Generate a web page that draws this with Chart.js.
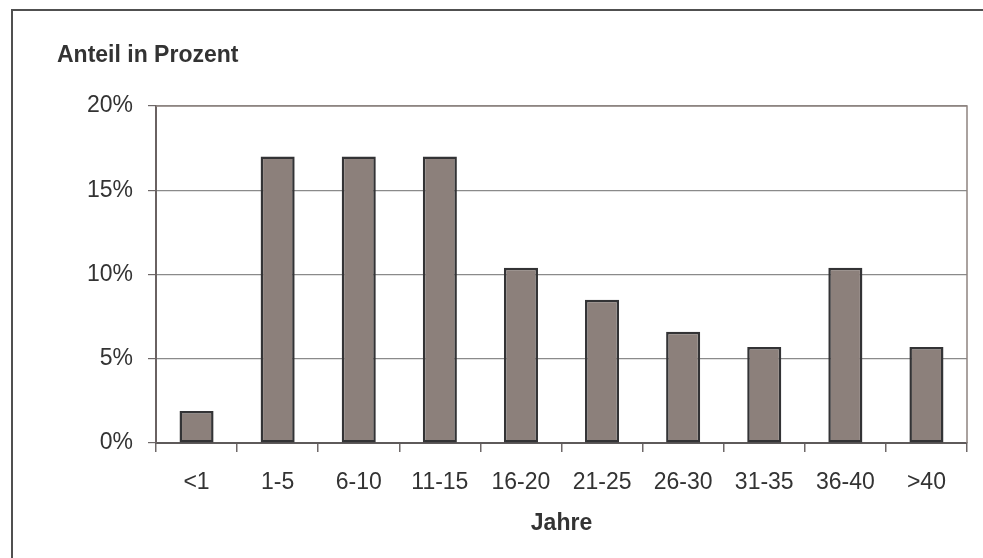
<!DOCTYPE html>
<html lang="de">
<head>
<meta charset="utf-8">
<title>Anteil in Prozent nach Jahren</title>
<script src="https://cdn.jsdelivr.net/npm/chart.js@4/dist/chart.umd.min.js"></script>
<style>
  html, body { margin: 0; padding: 0; background: #ffffff; }
  #wrap { position: relative; width: 983px; height: 558px; }
</style>
</head>
<body>
<div id="wrap"><canvas id="chart" width="983" height="558"></canvas></div>
<script>
// Altersklassen (Jahre)
const categories = ['<1', '1-5', '6-10', '11-15', '16-20', '21-25', '26-30', '31-35', '36-40', '>40'];
// Anteil in Prozent je Klasse
const shares = [1.9, 17.0, 17.0, 17.0, 10.4, 8.5, 6.6, 5.7, 10.4, 5.7];
// Achsenbeschriftungen
const yTitle = 'Anteil in Prozent';
const xTitle = 'Jahre';
const yMax = 20;
const yStep = 5;

const FONT = "'Liberation Sans', Arial, Helvetica, sans-serif";
const TEXT = '#333333';

// Rahmen, Diagrammbeschriftung und obere/rechte Kante der Zeichenfläche
const decorations = {
  id: 'decorations',
  beforeDraw(chart) {
    const ctx = chart.ctx;
    ctx.save();
    ctx.strokeStyle = '#505050';
    ctx.lineWidth = 2;
    ctx.beginPath();
    ctx.moveTo(12, chart.height + 2);
    ctx.lineTo(12, 10);
    ctx.lineTo(chart.width + 2, 10);
    ctx.stroke();
    ctx.restore();
  },
  afterDraw(chart) {
    const {ctx, chartArea: a} = chart;
    ctx.save();
    ctx.fillStyle = TEXT;
    ctx.font = 'bold 23px ' + FONT;
    ctx.textAlign = 'left';
    ctx.textBaseline = 'alphabetic';
    ctx.fillText(yTitle, a.left - 99, a.top - 44);
    ctx.restore();
  },
  beforeDatasetsDraw(chart) {
    const {ctx, chartArea: a} = chart;
    ctx.save();
    ctx.strokeStyle = '#8f8480';
    ctx.lineWidth = 1.5;
    ctx.beginPath();
    ctx.moveTo(a.left, a.top);
    ctx.lineTo(a.right, a.top);
    ctx.lineTo(a.right, a.bottom);
    ctx.stroke();
    ctx.restore();
  }
};

new Chart(document.getElementById('chart'), {
  type: 'bar',
  data: {
    labels: categories,
    datasets: [{
      data: shares,
      backgroundColor: '#8c807b',
      borderColor: '#333335',
      borderWidth: 2.5,
      borderSkipped: false,
      categoryPercentage: 1,
      barPercentage: 0.42
    }]
  },
  options: {
    responsive: false,
    animation: false,
    devicePixelRatio: 1,
    layout: { padding: { top: 106, right: 16, left: 0, bottom: 0 } },
    plugins: {
      legend: { display: false },
      tooltip: { enabled: false }
    },
    scales: {
      x: {
        offset: true,
        grid: {
          offset: true,
          drawOnChartArea: false,
          drawTicks: true,
          tickLength: 9,
          color: '#6e6868',
          lineWidth: 1.5
        },
        border: { display: true, color: '#5e5a5a', width: 2 },
        ticks: {
          color: TEXT,
          font: { family: FONT, size: 23 },
          padding: 17,
          maxRotation: 0,
          autoSkip: false
        },
        title: {
          display: true,
          text: xTitle,
          color: TEXT,
          font: { family: FONT, size: 23, weight: 'bold' },
          padding: { top: 0, bottom: 21 }
        },
        afterFit(scale) { scale.height = 115; }
      },
      y: {
        min: 0,
        max: yMax,
        ticks: {
          stepSize: yStep,
          color: TEXT,
          font: { family: FONT, size: 23 },
          padding: 15,
          callback: (v) => v + '%'
        },
        grid: {
          color: '#8a8a8a',
          lineWidth: 1.2,
          drawTicks: true,
          tickLength: 8,
          tickColor: '#6e6868'
        },
        border: { display: true, color: '#6a6262', width: 2 },
        afterFit(scale) { scale.width = 156; }
      }
    }
  },
  plugins: [decorations]
});
</script>
</body>
</html>
